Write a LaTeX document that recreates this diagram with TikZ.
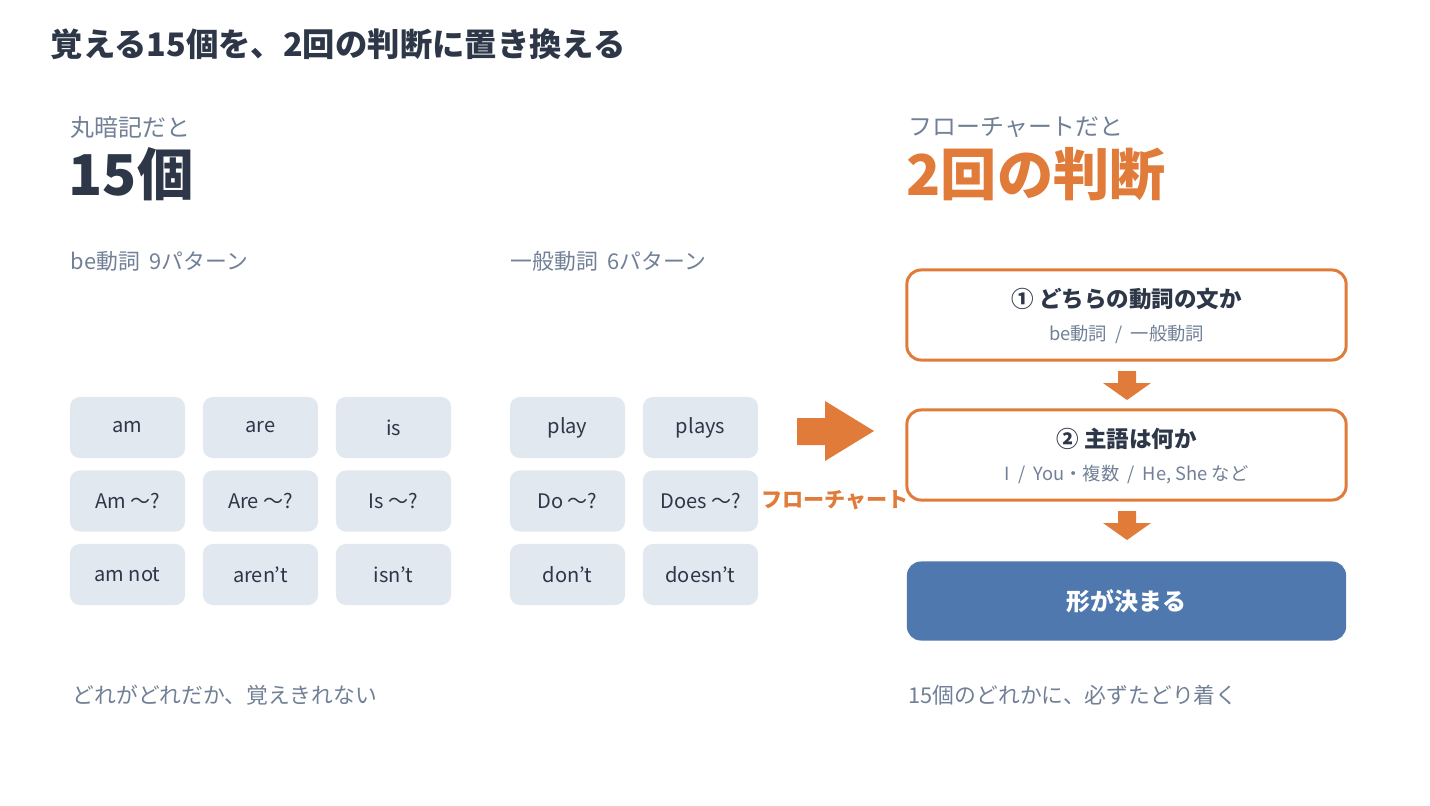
\documentclass[tikz,border=0pt]{standalone}
\usepackage{fontspec}
\setmainfont{Noto Sans CJK JP}
\usetikzlibrary{positioning}
\definecolor{ink}{HTML}{2D3748}
\definecolor{mute}{HTML}{718096}
\definecolor{accent}{HTML}{E07B39}
\definecolor{chip}{HTML}{E2E8F0}
\definecolor{result}{HTML}{4F79AE}
\tikzset{
  chip node/.style={fill=chip,rounded corners=2.8pt,minimum width=1.15cm,minimum height=0.61cm,inner sep=0pt,text=ink,font=\fontsize{5.7}{6}\selectfont},
  step node/.style={draw=accent,line width=0.85pt,rounded corners=4pt,minimum width=4.39cm,minimum height=0.9cm,inner sep=0pt},
  label text/.style={anchor=west,text=mute,font=\fontsize{6.2}{7}\selectfont,inner sep=0pt},
  down arrow/.style={fill=accent}
}
\begin{document}
\begin{tikzpicture}[x=0.01cm,y=-0.01cm]
        \useasboundingbox[fill=white] (0,0) rectangle (1430,806);
        \node[anchor=west,inner sep=0pt,text=ink,font=\fontsize{9.2}{10}\selectfont\bfseries] at (50,44) (title) {覚える15個を、2回の判断に置き換える};

        \node[label text,font=\fontsize{6.8}{7}\selectfont] at (70,127) (lhead) {丸暗記だと};
        \node[anchor=west,inner sep=0pt,text=ink,font=\fontsize{16}{17}\selectfont\bfseries] at (68,174) (lbig) {15個};
        \node[label text,font=\fontsize{6.8}{7}\selectfont] at (908,127) (rhead) {フローチャートだと};
        \node[anchor=west,inner sep=0pt,text=accent,font=\fontsize{16}{17}\selectfont\bfseries] at (906,174) (rbig) {2回の判断};

        \node[label text] at (70,261) (behead) {be動詞\ \ 9パターン};
        \node[label text] at (510,261) (genhead) {一般動詞\ \ 6パターン};

        % be verb chips
        \foreach \t [count=\i from 0] in {am,are,is,Am 〜?,Are 〜?,Is 〜?,am not,aren't,isn't} {
            \pgfmathtruncatemacro{\c}{mod(\i,3)}
            \pgfmathtruncatemacro{\r}{div(\i,3)}
            \node[chip node] at (127.5+133*\c,427.5+73.5*\r) (be\i) {\t};
        }
        % general verb chips
        \foreach \t [count=\i from 0] in {play,plays,Do 〜?,Does 〜?,don't,doesn't} {
            \pgfmathtruncatemacro{\c}{mod(\i,2)}
            \pgfmathtruncatemacro{\r}{div(\i,2)}
            \node[chip node] at (567.5+133*\c,427.5+73.5*\r) (gen\i) {\t};
        }

        \node[label text,font=\fontsize{6.2}{7}\selectfont] at (72,695) (lfoot) {どれがどれだか、覚えきれない};
        \node[label text,font=\fontsize{6.2}{7}\selectfont] at (908,695) (rfoot) {15個のどれかに、必ずたどり着く};

        % big arrow
        \fill[accent] (797,418) -- (825,418) -- (825,401) -- (874,431) -- (825,461) -- (825,445) -- (797,445) -- cycle;
        \node[text=accent,font=\fontsize{6}{7}\selectfont\bfseries,inner sep=0pt] at (835,500) (flowlbl) {フローチャート};

        % flow steps
        \node[step node] at (1126.5,315) (q1) {};
        \node[text=ink,font=\fontsize{6.4}{7}\selectfont\bfseries,inner sep=0pt] at (1126.5,299) (q1t) {① どちらの動詞の文か};
        \node[text=mute,font=\fontsize{5.2}{6}\selectfont,inner sep=0pt] at (1126.5,334) (q1s) {be動詞 \ / \ 一般動詞};

        \node[step node] at (1126.5,455) (q2) {};
        \node[text=ink,font=\fontsize{6.4}{7}\selectfont\bfseries,inner sep=0pt] at (1126.5,439) (q2t) {② 主語は何か};
        \node[text=mute,font=\fontsize{5.2}{6}\selectfont,inner sep=0pt] at (1126.5,475) (q2s) {I \ / \ You・複数 \ / \ He, She など};

        \node[fill=result,rounded corners=4pt,minimum width=4.39cm,minimum height=0.79cm,inner sep=0pt,text=white,font=\fontsize{6.8}{7}\selectfont\bfseries] at (1126.5,601) (res) {形が決まる};

        \foreach \y in {371,511} {
            \fill[down arrow] (1118,\y) -- (1136,\y) -- (1136,\y+12) -- (1151,\y+12) -- (1127,\y+29) -- (1103,\y+12) -- (1118,\y+12) -- cycle;
        }
\end{tikzpicture}
\end{document}
